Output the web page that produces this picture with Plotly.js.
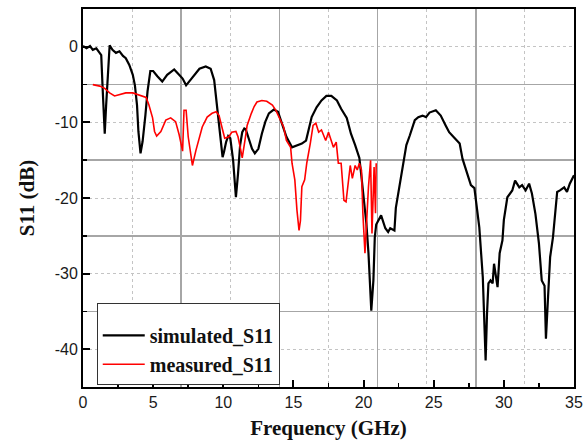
<!DOCTYPE html>
<html>
<head>
<meta charset="utf-8">
<script src="https://cdn.plot.ly/plotly-3.0.1.min.js"></script>
<style>html,body{margin:0;padding:0;background:#fff;}#chart{width:584px;height:445px;}</style>
</head>
<body>
<div id="chart"></div>
<script>
// Simulated S11 (frequency GHz, dB)
const simFreq = [0, 0.25, 0.5, 0.7, 0.95, 1.2, 1.3, 1.4, 1.55, 1.65, 1.8, 1.9, 2.1, 2.35, 2.6, 2.85, 3.05, 3.3, 3.55, 3.7, 3.85, 3.95, 4.1, 4.25, 4.45, 4.6, 4.8, 5.0, 5.3, 5.65, 6.0, 6.5, 6.85, 7.1, 7.35, 7.8, 8.3, 8.75, 9.1, 9.35, 9.5, 9.65, 9.85, 9.95, 10.05, 10.2, 10.35, 10.5, 10.7, 10.85, 10.9, 11.05, 11.2, 11.35, 11.5, 11.6, 11.8, 12.05, 12.25, 12.5, 12.75, 13.0, 13.25, 13.6, 13.9, 14.15, 14.5, 14.9, 15.25, 15.6, 15.9, 16.1, 16.3, 16.65, 17.0, 17.35, 17.7, 18.1, 18.4, 18.8, 19.1, 19.4, 19.7, 19.85, 20.05, 20.2, 20.35, 20.5, 20.55, 20.7, 20.8, 20.9, 21.25, 21.55, 21.75, 21.9, 22.2, 22.3, 22.6, 22.8, 23.05, 23.3, 23.65, 23.9, 24.2, 24.45, 24.7, 25.15, 25.5, 25.85, 26.1, 26.5, 26.85, 27.05, 27.4, 27.65, 27.9, 28.25, 28.5, 28.6, 28.7, 28.8, 28.9, 29.05, 29.2, 29.3, 29.4, 29.55, 29.7, 29.9, 30.0, 30.25, 30.6, 30.8, 31.1, 31.3, 31.55, 31.8, 32.0, 32.25, 32.5, 32.7, 32.9, 32.95, 33.0, 33.15, 33.3, 33.5, 33.65, 33.8, 34.0, 34.3, 34.5, 34.7, 35.0];
const simS11 = [0.1, -0.2, 0.1, -0.4, -0.2, -0.8, -1.1, -5.5, -11.5, -7.7, -2.4, 0.2, -0.4, -0.8, -0.6, -1.2, -1.5, -2.4, -3.7, -5.1, -7.7, -11.2, -14.1, -12.5, -9.0, -5.9, -3.2, -3.2, -3.9, -4.6, -3.7, -3.0, -3.7, -4.2, -5.1, -4.0, -2.9, -2.6, -2.9, -4.4, -7.1, -9.7, -13.3, -14.6, -13.9, -12.6, -11.8, -12.1, -15.0, -18.1, -19.9, -16.8, -13.0, -11.3, -10.8, -10.9, -12.1, -13.5, -14.1, -13.5, -11.5, -9.9, -8.8, -8.3, -8.6, -10.1, -11.9, -13.3, -13.0, -12.8, -12.4, -11.0, -9.3, -8.0, -7.1, -6.5, -6.5, -7.1, -8.2, -9.4, -11.5, -13.0, -14.7, -17.2, -20.3, -23.4, -27.3, -33.1, -34.9, -30.9, -25.2, -23.5, -22.3, -24.0, -24.5, -24.0, -24.3, -21.3, -17.9, -15.3, -13.0, -11.7, -9.7, -9.3, -9.1, -9.3, -8.7, -8.4, -9.1, -10.4, -11.3, -12.1, -12.8, -14.8, -17.0, -18.3, -18.7, -23.9, -30.5, -36.6, -41.5, -35.3, -31.3, -30.9, -31.3, -28.7, -30.0, -31.8, -27.3, -25.6, -22.9, -19.9, -19.0, -17.7, -18.6, -18.3, -19.0, -18.1, -19.4, -22.1, -26.0, -30.9, -31.6, -35.8, -38.6, -33.1, -27.8, -25.2, -21.6, -19.2, -19.0, -18.6, -19.2, -18.1, -17.0];

// Measured S11 (frequency GHz, dB)
const measFreq = [0.7, 1.2, 1.55, 1.9, 2.25, 2.6, 3.05, 3.55, 4.0, 4.5, 4.7, 4.96, 5.1, 5.25, 5.55, 5.9, 6.25, 6.6, 6.85, 7.1, 7.2, 7.35, 7.5, 7.8, 8.05, 8.3, 8.5, 8.85, 9.2, 9.5, 9.7, 9.9, 10.1, 10.4, 10.6, 10.9, 11.05, 11.25, 11.35, 11.55, 11.7, 12.0, 12.2, 12.4, 12.75, 13.1, 13.5, 13.75, 14.1, 14.3, 14.5, 14.8, 14.9, 15.1, 15.25, 15.4, 15.5, 15.6, 15.8, 15.95, 16.2, 16.4, 16.6, 16.8, 17.0, 17.3, 17.5, 17.65, 17.85, 18.05, 18.2, 18.4, 18.6, 18.75, 18.9, 19.05, 19.2, 19.4, 19.55, 19.7, 19.85, 19.95, 20.1, 20.2, 20.35, 20.5, 20.55, 20.6, 20.75, 20.85, 20.9];
const measS11 = [-5.0, -5.2, -5.5, -6.1, -6.5, -6.3, -6.1, -6.1, -6.4, -6.7, -7.7, -9.4, -11.2, -11.8, -11.2, -9.7, -9.4, -9.9, -11.6, -13.8, -8.4, -8.4, -11.9, -15.7, -13.7, -12.1, -10.6, -9.3, -8.8, -8.6, -9.1, -10.6, -12.1, -11.9, -11.3, -11.2, -11.9, -13.7, -14.7, -12.3, -10.4, -8.8, -7.9, -7.3, -7.1, -7.2, -7.7, -8.4, -9.7, -10.6, -12.4, -13.3, -15.4, -17.6, -21.6, -24.3, -23.0, -18.5, -17.6, -15.4, -12.8, -10.4, -10.1, -11.3, -11.0, -12.4, -11.3, -12.1, -13.3, -12.6, -15.4, -15.4, -20.3, -20.5, -17.6, -15.7, -17.4, -15.7, -16.3, -15.4, -16.3, -22.0, -27.3, -23.4, -18.5, -15.0, -19.9, -24.7, -15.9, -22.0, -15.4];

const seriesNames = ['simulated_S11', 'measured_S11'];
const xTickVals = [0, 5, 10, 15, 20, 25, 30, 35];
const yTickVals = [0, -10, -20, -30, -40];

const traces = [
  {x: simFreq, y: simS11, name: seriesNames[0], type: 'scatter', mode: 'lines',
   line: {color: '#000000', width: 2.2}, xaxis: 'x', yaxis: 'y'},
  {x: measFreq, y: measS11, name: seriesNames[1], type: 'scatter', mode: 'lines',
   line: {color: '#ff0000', width: 1.6}, xaxis: 'x', yaxis: 'y'},
  {x: [null], y: [null], type: 'scatter', mode: 'lines', showlegend: false, hoverinfo: 'skip',
   xaxis: 'x2', yaxis: 'y2'}
];

const tickFont = {family: '"Liberation Sans", Arial, sans-serif', size: 16, color: '#1a1a1a'};
const titleFont = {family: '"Liberation Serif", "Times New Roman", serif', size: 21, color: '#111', weight: 'bold'};

const layout = {
  width: 584, height: 445,
  margin: {l: 83, r: 10, t: 9, b: 58},
  paper_bgcolor: '#ffffff', plot_bgcolor: '#ffffff',
  showlegend: true,
  xaxis: {
    range: [0, 35], tickvals: xTickVals, ticktext: xTickVals.map(String),
    ticks: 'inside', ticklen: 7, tickwidth: 2, tickcolor: '#000',
    minor: {dtick: 2.5, ticks: 'inside', ticklen: 4, tickwidth: 1.5, tickcolor: '#000', showgrid: false},
    showgrid: false, zeroline: false,
    showline: true, linecolor: '#000', linewidth: 2, mirror: true,
    tickfont: tickFont, ticklabeloverflow: 'allow',
    title: {text: 'Frequency (GHz)', font: titleFont, standoff: 10}
  },
  yaxis: {
    range: [-45, 5], tickvals: yTickVals, ticktext: yTickVals.map(String),
    ticks: 'inside', ticklen: 7, tickwidth: 2, tickcolor: '#000',
    minor: {dtick: 5, ticks: 'inside', ticklen: 4, tickwidth: 1.5, tickcolor: '#000', showgrid: false},
    showgrid: false, zeroline: false,
    showline: true, linecolor: '#000', linewidth: 2, mirror: true,
    tickfont: tickFont,
    title: {text: 'S11 (dB)', font: titleFont, standoff: 14}
  },
  xaxis2: {
    overlaying: 'x', anchor: 'y2', range: [0, 35],
    tick0: 0, dtick: 7, showgrid: true, gridcolor: '#a6a6a6', gridwidth: 1.5,
    minor: {tick0: 3.5, dtick: 7, showgrid: true, griddash: 'dot', gridcolor: '#c4c4c4', gridwidth: 1},
    showticklabels: false, ticks: '', zeroline: false, showline: false
  },
  yaxis2: {
    overlaying: 'y', anchor: 'x2', range: [-45, 5],
    tick0: -5, dtick: 10, showgrid: true, gridcolor: '#a6a6a6', gridwidth: 1.5,
    minor: {tick0: 0, dtick: 10, showgrid: true, griddash: 'dot', gridcolor: '#c4c4c4', gridwidth: 1},
    showticklabels: false, ticks: '', zeroline: false, showline: false
  },
  legend: {
    x: 0.028, y: 0.222, xanchor: 'left', yanchor: 'top',
    bgcolor: '#ffffff', bordercolor: '#333333', borderwidth: 1,
    font: {family: '"Liberation Serif", "Times New Roman", serif', size: 20, color: '#111', weight: 'bold'},
    title: {text: ' ', font: {size: 9}},
    itemwidth: 42,
    tracegroupgap: 0
  }
};

Plotly.newPlot('chart', traces, layout, {displayModeBar: false, staticPlot: true});
</script>
</body>
</html>
